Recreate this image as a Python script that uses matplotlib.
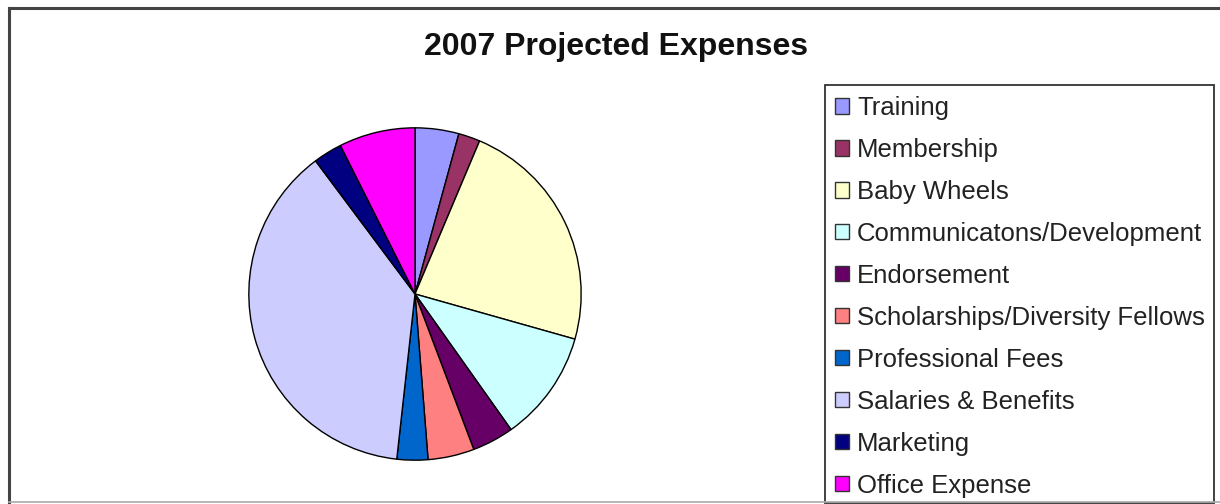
import matplotlib
matplotlib.use("Agg")
import matplotlib.pyplot as plt
from matplotlib.patches import Rectangle
from matplotlib.lines import Line2D

W, H = 1220, 504

# share of the total, in percent
categories = ["Training", "Membership", "Baby Wheels", "Communicatons/Development",
              "Endorsement", "Scholarships/Diversity Fellows", "Professional Fees",
              "Salaries & Benefits", "Marketing", "Office Expense"]
values = [4.25, 2.1, 23.0, 10.8, 4.05, 4.5, 3.0, 38.0, 2.8, 7.4]
colors = ["#9999FF", "#993366", "#FFFFCC", "#CCFFFF", "#660066",
          "#FF8080", "#0066CC", "#CCCCFF", "#000080", "#FF00FF"]

plt.rcParams["font.family"] = ["Liberation Sans", "DejaVu Sans"]

fig = plt.figure(figsize=(W / 100, H / 100), dpi=100)
fig.patch.set_facecolor("white")

def fx(px):
    return px / W

def fy(py):
    return 1 - py / H

# outer chart frame (only top/left visible, bottom cut)
fig.add_artist(Line2D([fx(9), 1], [fy(8), fy(8)], color="#444444", lw=2.2))
fig.add_artist(Line2D([fx(9), fx(9)], [fy(8), 0], color="#444444", lw=2.2))
fig.add_artist(Line2D([fx(9), 1], [fy(502), fy(502)], color="#aaaaaa", lw=1.2))

fig.text(fx(616), fy(47), "2007 Projected Expenses", ha="center", va="center",
         fontsize=23, fontweight="bold", color="#111111")

# pie
cx, cy, r = 415, 294, 167
ax = fig.add_axes([fx(cx - r), fy(cy + r), (2 * r) / W, (2 * r) / H])
wedges, _ = ax.pie(values, colors=colors, startangle=90, counterclock=False,
                   wedgeprops=dict(edgecolor="black", linewidth=1.0))
ax.set_xlim(-1.005, 1.005)
ax.set_ylim(-1.005, 1.005)
ax.set_aspect("auto")
ax.axis("off")

# legend box
fig.add_artist(Rectangle((fx(825), fy(503)), fx(1214) - fx(825), fy(85) - fy(503),
                         transform=fig.transFigure, facecolor="white",
                         edgecolor="#333333", lw=1.3))
leg = fig.legend(wedges, categories, loc="upper left",
                 bbox_to_anchor=(fx(827), fy(88)), frameon=False,
                 fontsize=18.5, handlelength=0.57, handleheight=0.57,
                 handletextpad=0.3, labelspacing=0.7, borderpad=0.3,
                 borderaxespad=0)
for t in leg.get_texts():
    t.set_color("#222222")
for h in leg.legend_handles:
    h.set_edgecolor("#333333")
    h.set_linewidth(1.0)

fig.savefig("out.png", dpi=100)
